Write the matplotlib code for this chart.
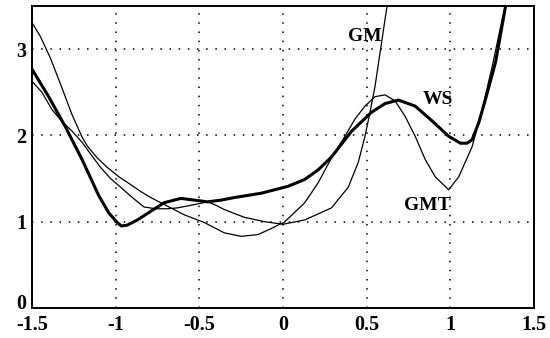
import matplotlib

matplotlib.use("Agg")
import matplotlib.pyplot as plt
import matplotlib.transforms as mtransforms

# curves
ws_x = [-1.50, -1.40, -1.30, -1.20, -1.10, -1.04, -0.99, -0.965, -0.93, -0.87,
        -0.79, -0.71, -0.61, -0.53, -0.45, -0.37, -0.29, -0.13, 0.03, 0.13,
        0.21, 0.29, 0.41, 0.53, 0.61, 0.69, 0.79, 0.89, 0.99, 1.06,
        1.10, 1.13, 1.17, 1.21, 1.27, 1.33, 1.345]
ws_y = [2.77, 2.45, 2.10, 1.72, 1.30, 1.10, 0.99, 0.95, 0.96, 1.02,
        1.12, 1.22, 1.27, 1.25, 1.23, 1.25, 1.28, 1.33, 1.41, 1.49,
        1.60, 1.75, 2.05, 2.27, 2.37, 2.41, 2.34, 2.17, 1.99, 1.91,
        1.91, 1.95, 2.15, 2.42, 2.85, 3.50, 3.62]

gm_x = [-1.50, -1.44, -1.38, -1.32, -1.26, -1.20, -1.14, -1.09, -1.03, -0.97,
        -0.90, -0.83, -0.76, -0.69, -0.63, -0.55, -0.45, -0.40, -0.35, -0.23,
        -0.11, 0.00, 0.13, 0.29, 0.39, 0.45, 0.49, 0.52, 0.55, 0.58,
        0.61, 0.63]
gm_y = [2.63, 2.50, 2.30, 2.16, 2.05, 1.92, 1.76, 1.63, 1.50, 1.40,
        1.28, 1.17, 1.15, 1.15, 1.16, 1.19, 1.23, 1.19, 1.14, 1.05,
        1.00, 0.97, 1.02, 1.16, 1.40, 1.69, 1.99, 2.27, 2.57, 2.96,
        3.35, 3.60]

gmt_x = [-1.50, -1.45, -1.39, -1.33, -1.26, -1.20, -1.17, -1.11, -1.05, -0.98,
         -0.91, -0.85, -0.79, -0.71, -0.65, -0.59, -0.47, -0.35, -0.25, -0.15,
         -0.07, -0.02, 0.006, 0.13, 0.21, 0.29, 0.37, 0.43, 0.49, 0.55,
         0.61, 0.67, 0.73, 0.79, 0.85, 0.91, 0.99, 1.05, 1.13, 1.19,
         1.25, 1.31, 1.34]
gmt_y = [3.31, 3.15, 2.90, 2.60, 2.24, 1.98, 1.88, 1.74, 1.63, 1.52,
         1.43, 1.35, 1.28, 1.20, 1.14, 1.08, 0.99, 0.87, 0.83, 0.85,
         0.92, 0.97, 0.99, 1.22, 1.45, 1.74, 1.99, 2.19, 2.34, 2.45,
         2.47, 2.40, 2.22, 1.99, 1.72, 1.52, 1.37, 1.52, 1.87, 2.30,
         2.80, 3.35, 3.60]

x_ticks = [-1.5, -1, -0.5, 0, 0.5, 1, 1.5]
x_tick_labels = ["-1.5", "-1", "-0.5", "0", "0.5", "1", "1.5"]
y_ticks = [0, 1, 2, 3]
y_tick_labels = ["0", "1", "2", "3"]

# curve labels: (text, x, y)
curve_labels = [("GM", 0.49, 3.15), ("WS", 0.925, 2.42), ("GMT", 0.865, 1.19)]

serif = ["Liberation Serif", "DejaVu Serif"]

fig = plt.figure(figsize=(5.5, 3.38), dpi=100)
ax = fig.add_axes([0.058, 0.089, 0.913, 0.893])

ax.plot(gm_x, gm_y, color="black", linewidth=0.9)
ax.plot(gmt_x, gmt_y, color="black", linewidth=0.9)
ax.plot(ws_x, ws_y, color="black", linewidth=2.2)

ax.set_xlim(-1.5, 1.5)
ax.set_ylim(0, 3.5)
ax.set_xticks(x_ticks)
ax.set_xticklabels(x_tick_labels)
ax.set_yticks(y_ticks)
ax.set_yticklabels(y_tick_labels)
ax.tick_params(axis="x", length=0, pad=5)
ax.tick_params(axis="y", length=0, pad=4)
for label in ax.get_xticklabels() + ax.get_yticklabels():
    label.set_family(serif)
    label.set_fontsize(14.5)
    label.set_fontweight("bold")
for label in ax.get_yticklabels():
    label.set_verticalalignment("center_baseline")

# the "0" sits in the corner just above "-1.5"
zero_label = ax.get_yticklabels()[0]
zero_label.set_verticalalignment("bottom")
zero_label.set_transform(zero_label.get_transform()
                         + mtransforms.ScaledTranslation(0, -6.5 / 100, fig.dpi_scale_trans))

ax.grid(True, color="black", linestyle=(0, (1, 5)), linewidth=1.1)
for spine in ax.spines.values():
    spine.set_linewidth(1.4)

for text, x, y in curve_labels:
    ax.text(x, y, text, ha="center", va="center", fontsize=14,
            fontweight="bold", family=serif)

fig.savefig("out.png", dpi=100)
